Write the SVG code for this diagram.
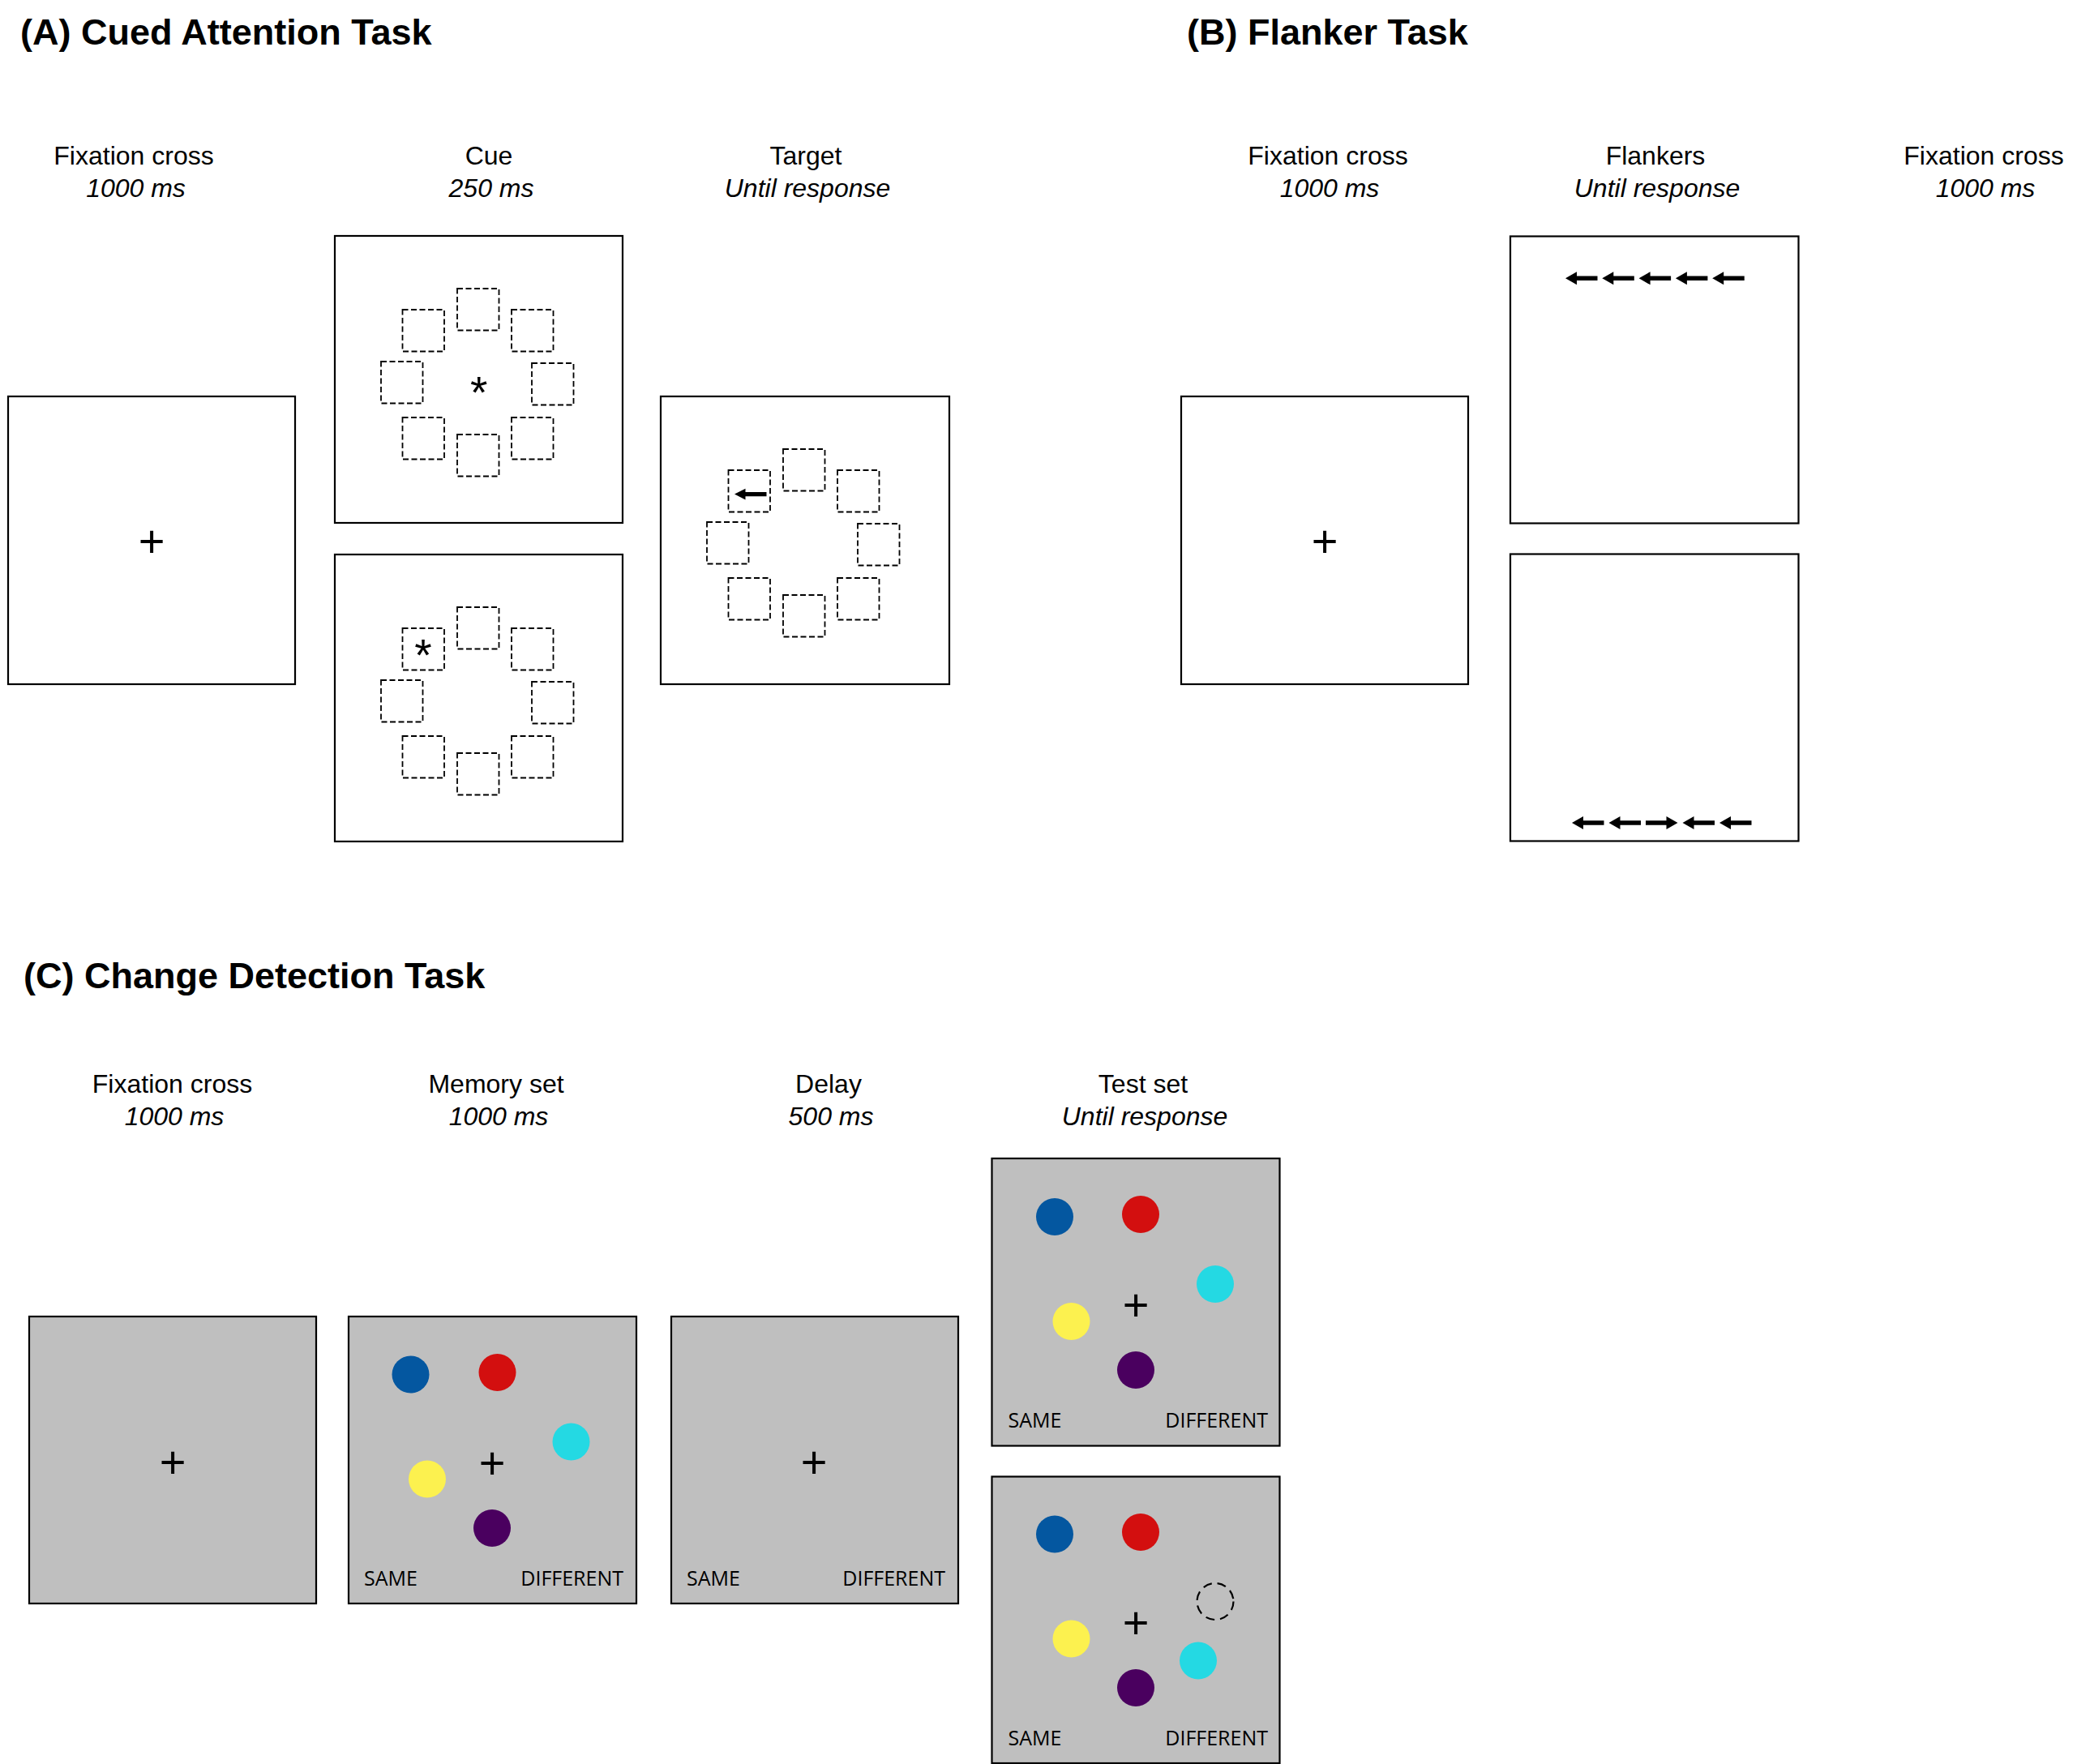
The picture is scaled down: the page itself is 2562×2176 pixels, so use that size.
<svg xmlns="http://www.w3.org/2000/svg" width="2562" height="2176" viewBox="0 0 2562 2176">
<style>
.box{fill:#ffffff;stroke:#000;stroke-width:2.2}
.gbox{fill:#bfbfbf;stroke:#000;stroke-width:2.2}
.dsq{fill:none;stroke:#000;stroke-width:1.8;stroke-dasharray:7 3.5}
.t{font-family:"Liberation Sans",Arial,sans-serif;fill:#000}
.title{font-size:45px;font-weight:bold}
.lbl{font-size:32px;text-anchor:middle}
.dur{font-size:32px;font-style:italic;text-anchor:middle}
.plus{font-size:56px;text-anchor:middle}
.ast{font-size:55px;text-anchor:middle}
.resp{font-family:"Open Sans","Liberation Sans",sans-serif;font-size:25px;fill:#000}
.arr{fill:#000}
.blue{fill:#0457a0}.red{fill:#d30f0f}.cyan{fill:#24d9e3}.yellow{fill:#fcf14f}.purple{fill:#4a005f}
.dcirc{fill:none;stroke:#000;stroke-width:2.2;stroke-dasharray:11 7}
</style>
<defs>
<g id="ring">
<rect class="dsq" x="151" y="65" width="51.5" height="51.5"/>
<rect class="dsq" x="83.5" y="91" width="51.5" height="51.5"/>
<rect class="dsq" x="218" y="91" width="51.5" height="51.5"/>
<rect class="dsq" x="57" y="155" width="51.5" height="51.5"/>
<rect class="dsq" x="243" y="157" width="51.5" height="51.5"/>
<rect class="dsq" x="83.5" y="224" width="51.5" height="51.5"/>
<rect class="dsq" x="151" y="245" width="51.5" height="51.5"/>
<rect class="dsq" x="218" y="224" width="51.5" height="51.5"/>
</g>
<path id="la" d="M0,0 L14,-8 L14,-2.7 L39.5,-2.7 L39.5,2.7 L14,2.7 L14,8 Z"/>
<path id="ta" d="M0,0 L13.5,-6.8 L13.5,-2.6 L39.5,-2.6 L39.5,2.6 L13.5,2.6 L13.5,6.8 Z"/>
</defs>
<rect width="2562" height="2176" fill="#ffffff"/>

<!-- Section A -->
<g id="titleA"><text class="t title" x="25" y="55">(A) Cued Attention Task</text></g>
<g id="A-fixation">
<text class="t lbl" x="165" y="203">Fixation cross</text>
<text class="t dur" x="167.5" y="243">1000 ms</text>
<rect class="box" x="10" y="489" width="354" height="355"/>
<text class="t plus" x="187" y="686.5">+</text>
</g>
<g id="A-cue">
<text class="t lbl" x="603" y="203">Cue</text>
<text class="t dur" x="606" y="243">250 ms</text>
<g id="A-cue-center">
<rect class="box" x="413" y="291" width="355" height="354"/>
<use href="#ring" x="413" y="291"/>
<text class="t ast" x="590.6" y="503">*</text>
</g>
<g id="A-cue-location">
<rect class="box" x="413" y="684" width="355" height="354"/>
<use href="#ring" x="413" y="684"/>
<text class="t ast" x="522" y="826.5">*</text>
</g>
</g>
<g id="A-target">
<text class="t lbl" x="994" y="203">Target</text>
<text class="t dur" x="996" y="243">Until response</text>
<rect class="box" x="815" y="489" width="356" height="355"/>
<use href="#ring" x="815" y="489"/>
<use href="#ta" class="arr" x="906" y="609.6"/>
</g>

<!-- Section B -->
<g id="titleB"><text class="t title" x="1464" y="55">(B) Flanker Task</text></g>
<g id="B-fixation1">
<text class="t lbl" x="1638" y="203">Fixation cross</text>
<text class="t dur" x="1640" y="243">1000 ms</text>
<rect class="box" x="1457" y="489" width="354" height="355"/>
<text class="t plus" x="1634" y="686.5">+</text>
</g>
<g id="B-flankers">
<text class="t lbl" x="2042" y="203">Flankers</text>
<text class="t dur" x="2044" y="243">Until response</text>
<g id="B-congruent">
<rect class="box" x="1863" y="291.5" width="355.5" height="354"/>
<use href="#la" class="arr" x="1931" y="343.3"/>
<use href="#la" class="arr" x="1976.3" y="343.3"/>
<use href="#la" class="arr" x="2021.6" y="343.3"/>
<use href="#la" class="arr" x="2066.9" y="343.3"/>
<use href="#la" class="arr" x="2112.2" y="343.3"/>
</g>
<g id="B-incongruent">
<rect class="box" x="1863" y="683.5" width="355.5" height="354"/>
<use href="#la" class="arr" x="1939" y="1015"/>
<use href="#la" class="arr" x="1984.5" y="1015"/>
<use href="#la" class="arr" transform="translate(4099.5,0) scale(-1,1)" x="2030" y="1015"/>
<use href="#la" class="arr" x="2075.5" y="1015"/>
<use href="#la" class="arr" x="2121" y="1015"/>
</g>
</g>
<g id="B-fixation2">
<text class="t lbl" x="2447" y="203">Fixation cross</text>
<text class="t dur" x="2449" y="243">1000 ms</text>
</g>

<!-- Section C -->
<g id="titleC"><text class="t title" x="29" y="1219">(C) Change Detection Task</text></g>
<g id="C-fixation">
<text class="t lbl" x="212.5" y="1348">Fixation cross</text>
<text class="t dur" x="215" y="1388">1000 ms</text>
<rect class="gbox" x="36" y="1624" width="354" height="354"/>
<text class="t plus" x="213" y="1823">+</text>
</g>
<g id="C-memory">
<text class="t lbl" x="612" y="1348">Memory set</text>
<text class="t dur" x="615" y="1388">1000 ms</text>
<rect class="gbox" x="430" y="1624" width="355" height="354"/>
<circle class="blue" cx="506.5" cy="1695.5" r="23"/>
<circle class="red" cx="613.5" cy="1693" r="23"/>
<circle class="cyan" cx="704.5" cy="1778.5" r="23"/>
<circle class="yellow" cx="527" cy="1824.5" r="23"/>
<circle class="purple" cx="607" cy="1885" r="23"/>
<text class="t plus" x="607" y="1823.5">+</text>
<text class="resp" x="449" y="1956">SAME</text>
<text class="resp" x="769" y="1956" text-anchor="end">DIFFERENT</text>
</g>
<g id="C-delay">
<text class="t lbl" x="1022" y="1348">Delay</text>
<text class="t dur" x="1025" y="1388">500 ms</text>
<rect class="gbox" x="828" y="1624" width="354" height="354"/>
<text class="t plus" x="1004" y="1823">+</text>
<text class="resp" x="847" y="1956">SAME</text>
<text class="resp" x="1166" y="1956" text-anchor="end">DIFFERENT</text>
</g>
<g id="C-test">
<text class="t lbl" x="1410" y="1348">Test set</text>
<text class="t dur" x="1412" y="1388">Until response</text>
<g id="C-test-same">
<rect class="gbox" x="1223.5" y="1429" width="355" height="354.5"/>
<circle class="blue" cx="1301" cy="1501" r="23"/>
<circle class="red" cx="1407" cy="1498" r="23"/>
<circle class="cyan" cx="1499" cy="1584" r="23"/>
<circle class="yellow" cx="1321.5" cy="1630" r="23"/>
<circle class="purple" cx="1401" cy="1690" r="23"/>
<text class="t plus" x="1401" y="1628.5">+</text>
<text class="resp" x="1243.5" y="1761">SAME</text>
<text class="resp" x="1564" y="1761" text-anchor="end">DIFFERENT</text>
</g>
<g id="C-test-different">
<rect class="gbox" x="1223.5" y="1821.5" width="355" height="353.5"/>
<circle class="blue" cx="1301" cy="1892.5" r="23"/>
<circle class="red" cx="1407" cy="1890" r="23"/>
<circle class="dcirc" cx="1499" cy="1975.5" r="22.5"/>
<circle class="yellow" cx="1321.5" cy="2021.5" r="23"/>
<circle class="cyan" cx="1478" cy="2048.5" r="23"/>
<circle class="purple" cx="1401" cy="2082" r="23"/>
<text class="t plus" x="1401" y="2021">+</text>
<text class="resp" x="1243.5" y="2153">SAME</text>
<text class="resp" x="1564" y="2153" text-anchor="end">DIFFERENT</text>
</g>
</g>
<g id="connectors"/>
</svg>
